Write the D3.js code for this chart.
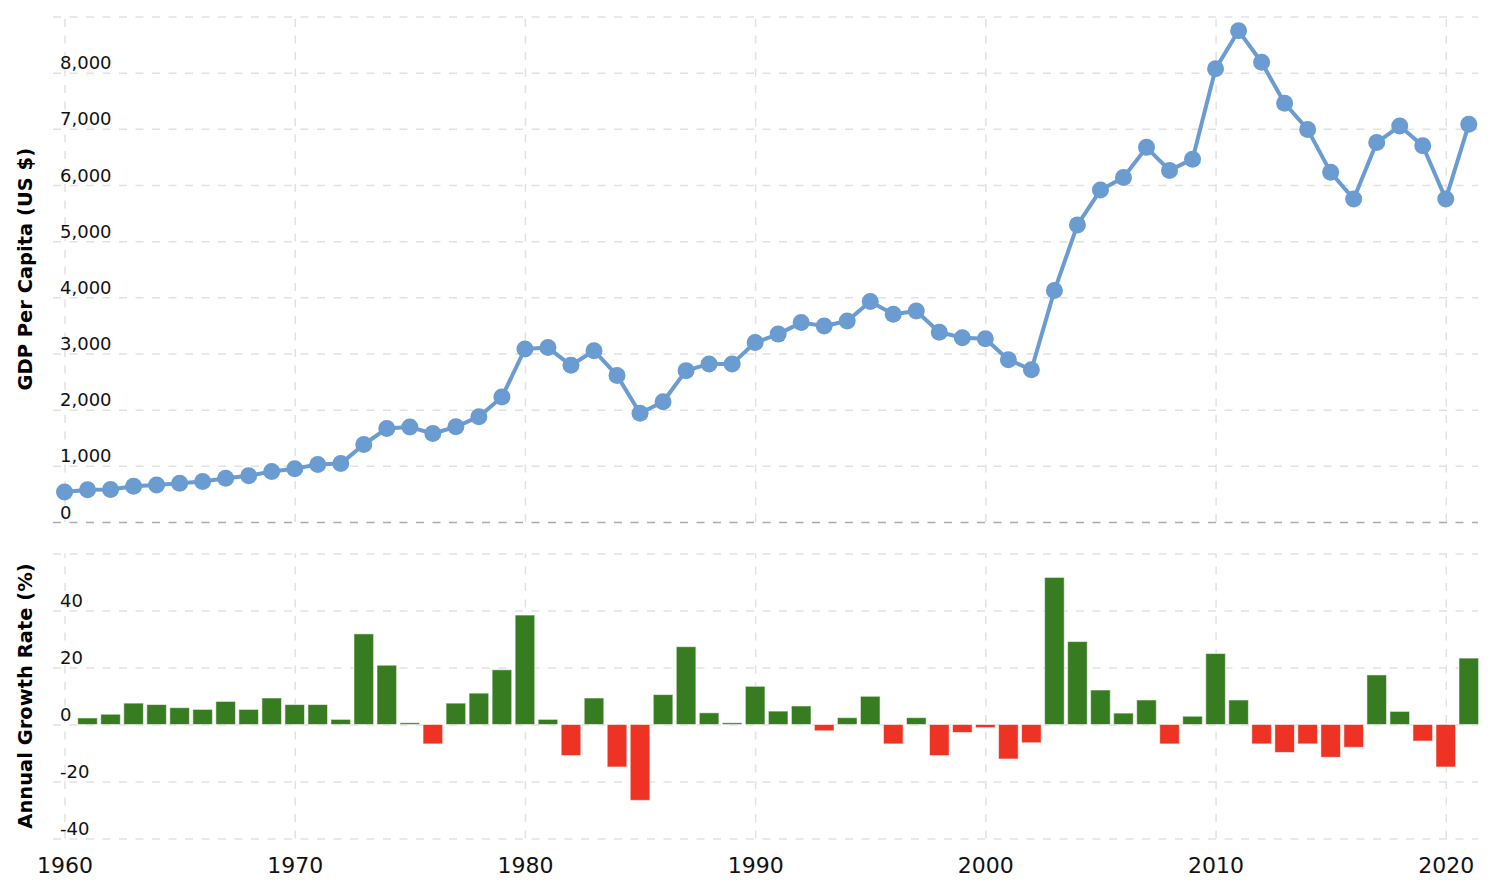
<!DOCTYPE html>
<html>
<head>
<meta charset="utf-8">
<script src="https://cdn.jsdelivr.net/npm/d3@7"></script>
<style>
  html, body { margin: 0; padding: 0; background: #fff; }
  svg { display: block; font-family: "DejaVu Sans", Verdana, sans-serif; }
</style>
</head>
<body>
<svg id="chart" width="1500" height="884"></svg>
<script>
// ---- data ----
const years = d3.range(1960, 2022);
const gdpPerCapita = [
  533, 575, 580, 635, 660, 690, 720, 780, 825, 900,
  950, 1025, 1040, 1380, 1665, 1690, 1575, 1695, 1875, 2225,
  3080, 3105, 2790, 3050, 2610, 1935, 2140, 2695, 2815, 2815,
  3195, 3345, 3550, 3490, 3580, 3925, 3700, 3755, 3380, 3280,
  3262, 2890, 2710, 4120, 5290, 5910, 6135, 6670, 6260, 6460,
  8070, 8745, 8185, 7455, 6990, 6225, 5750, 6755, 7050, 6700,
  5750, 7080
];
const growthYears = d3.range(1961, 2022);
const growthRate = [
  2.3, 3.6, 7.5, 7.0, 5.9, 5.3, 8.1, 5.3, 9.3, 7.0,
  7.0, 1.8, 31.8, 20.8, 0.6, -6.8, 7.5, 11.0, 19.2, 38.4,
  1.8, -10.9, 9.3, -14.9, -26.6, 10.5, 27.3, 4.1, 0.6, 13.4,
  4.7, 6.5, -2.2, 2.4, 9.9, -6.8, 2.4, -10.9, -2.8, -1.1,
  -12.1, -6.4, 51.6, 29.1, 12.1, 4.0, 8.6, -6.8, 2.9, 24.9,
  8.6, -6.8, -9.8, -6.8, -11.5, -8.0, 17.4, 4.6, -5.8, -14.9, 23.3
];
const xTicks = [1960, 1970, 1980, 1990, 2000, 2010, 2020];
const topGrid = d3.range(0, 9001, 1000);
const topLabels = d3.range(0, 8001, 1000);
const botGrid = [-40, -20, 0, 20, 40, 60];
const botLabels = [-40, -20, 0, 20, 40];
const topTitle = "GDP Per Capita (US $)";
const botTitle = "Annual Growth Rate (%)";

// ---- layout ----
const svg = d3.select("#chart");
const L = 53, R = 1478;
const x = d3.scaleLinear().domain([1959.5, 2021.4]).range([L, R]);
const yTop = d3.scaleLinear().domain([0, 9000]).range([522, 16.5]);
const yBot = d3.scaleLinear().domain([-40, 60]).range([838.5, 553.5]);

const gridColor = "#e2e2e2";
const dash = "8,8.5";

// horizontal grid, top
const gTopGrid = svg.append("g").attr("transform", `translate(${L},0)`)
  .call(d3.axisLeft(yTop).tickValues(topGrid).tickSize(-(R - L)).tickFormat(""));
gTopGrid.select(".domain").remove();
gTopGrid.selectAll("line")
  .attr("stroke", d => d === 0 ? "#aaaaaa" : gridColor)
  .attr("stroke-width", 1.5)
  .attr("stroke-dasharray", dash);

// horizontal grid, bottom
const gBotGrid = svg.append("g").attr("transform", `translate(${L},0)`)
  .call(d3.axisLeft(yBot).tickValues(botGrid).tickSize(-(R - L)).tickFormat(""));
gBotGrid.select(".domain").remove();
gBotGrid.selectAll("line")
  .attr("stroke", gridColor)
  .attr("stroke-width", 1.5)
  .attr("stroke-dasharray", dash);

// vertical grid
const vTop = svg.append("g").attr("transform", `translate(0,${yTop(0)})`)
  .call(d3.axisBottom(x).tickValues(xTicks).tickSize(-(yTop(0) - yTop(9000))).tickFormat(""));
vTop.select(".domain").remove();
vTop.selectAll("line").attr("stroke", gridColor).attr("stroke-width", 1.5).attr("stroke-dasharray", dash);

const vBot = svg.append("g").attr("transform", `translate(0,${yBot(-40)})`)
  .call(d3.axisBottom(x).tickValues(xTicks).tickSize(-(yBot(-40) - yBot(60))).tickFormat(d3.format("d")));
vBot.select(".domain").remove();
vBot.selectAll("line").attr("stroke", gridColor).attr("stroke-width", 1.5).attr("stroke-dasharray", dash);
vBot.selectAll("text")
  .attr("y", 34).attr("dy", 0)
  .attr("fill", "#111")
  .style("font-size", "22px")
  .style("font-family", "'DejaVu Sans', Verdana, sans-serif");

// bars
const barW = 19.6;
svg.append("g").selectAll("rect")
  .data(growthYears.map((yr, i) => ({ yr, v: growthRate[i] })))
  .join("rect")
  .attr("x", d => x(d.yr) - barW / 2)
  .attr("width", barW)
  .attr("y", d => yBot(Math.max(0, d.v)))
  .attr("height", d => Math.abs(yBot(d.v) - yBot(0)))
  .attr("fill", d => d.v >= 0 ? "#387c21" : "#ee3224")
  .attr("stroke", "rgba(255,255,255,0.55)")
  .attr("stroke-width", 1);

// line + points
const pts = years.map((yr, i) => ({ yr, v: gdpPerCapita[i] }));
svg.append("path")
  .datum(pts)
  .attr("fill", "none")
  .attr("stroke", "#6a9bd1")
  .attr("stroke-width", 4)
  .attr("stroke-linejoin", "round")
  .attr("d", d3.line().x(d => x(d.yr)).y(d => yTop(d.v)));
svg.append("g").selectAll("circle")
  .data(pts)
  .join("circle")
  .attr("cx", d => x(d.yr))
  .attr("cy", d => yTop(d.v))
  .attr("r", 8.5)
  .attr("fill", "#6a9bd1");

// y tick labels (inside plot, above gridlines)
const fmt = d3.format(",");
svg.append("g").selectAll("text")
  .data(topLabels)
  .join("text")
  .attr("x", 60)
  .attr("y", d => yTop(d) - 3.5)
  .attr("fill", "#111")
  .style("font-size", "18px")
  .text(d => fmt(d));
svg.append("g").selectAll("text")
  .data(botLabels)
  .join("text")
  .attr("x", 60)
  .attr("y", d => yBot(d) - 3.5)
  .attr("fill", "#111")
  .style("font-size", "18px")
  .text(d => d);

// axis titles
svg.append("text")
  .attr("transform", `translate(32,${(yTop(0) + yTop(9000)) / 2}) rotate(-90)`)
  .attr("text-anchor", "middle")
  .attr("fill", "#000")
  .style("font-size", "19.5px")
  .style("font-weight", "bold")
  .text(topTitle);
svg.append("text")
  .attr("transform", `translate(32,${(yBot(-40) + yBot(60)) / 2}) rotate(-90)`)
  .attr("text-anchor", "middle")
  .attr("fill", "#000")
  .style("font-size", "19.5px")
  .style("font-weight", "bold")
  .text(botTitle);
</script>
</body>
</html>
